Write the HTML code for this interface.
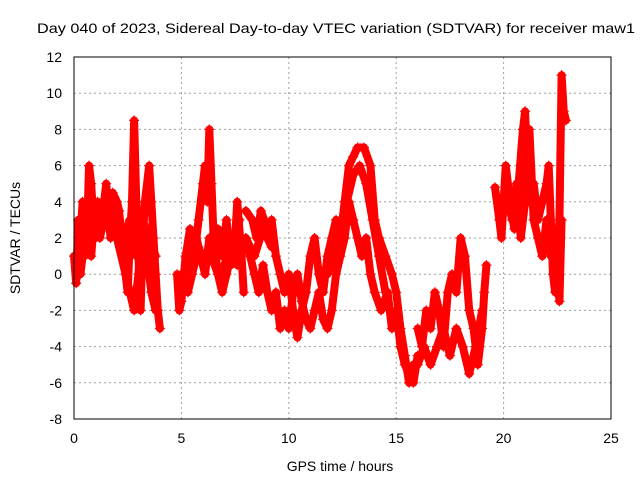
<!DOCTYPE html>
<html><head><meta charset="utf-8"><style>
body{margin:0;background:#fff}
svg{display:block;font-family:"Liberation Sans",sans-serif}
</style></head><body>
<svg id="chart" width="640" height="480" viewBox="0 0 640 480">
<text x="336" y="33" font-size="14" text-anchor="middle" textLength="598" lengthAdjust="spacingAndGlyphs">Day 040 of 2023, Sidereal Day-to-day VTEC variation (SDTVAR) for receiver maw1</text>
<g id="grid"></g><g id="marks"></g>
<rect x="74" y="57" width="537" height="362" fill="none" stroke="#000"/>
<g id="ticks"></g>
<text x="340" y="471" font-size="14" text-anchor="middle">GPS time / hours</text>
<text transform="translate(20,238) rotate(-90)" font-size="14" text-anchor="middle">SDTVAR / TECUs</text>
</svg>
<script>
const xTicks=[0,5,10,15,20,25];
const yTicks=[-8,-6,-4,-2,0,2,4,6,8,10,12];
const tr1=[0,0.1,0.2,0.3,0.4,0.5,0.6,0.7,0.8,0.9,1.0,1.1,1.3,1.5,1.7,1.8,2.0,2.1,2.3,2.5,2.6,2.7,2.8,2.9,3.0,3.1,3.2,3.3,3.5,3.6,3.7,3.8,3.9,4.0];
const v1=[1,-0.5,3,2,4,1,2,6,5,3,2,4,3,5,2,4.5,4,3.5,1,-1,2,4,8.5,4,1,-2,2,4,6,4,2,0,-2,-3];
const tr2=[0.3,0.5,0.8,1.0,1.2,1.4,1.6,1.8,2.0,2.4,2.6,2.8,3.0,3.2,3.4,3.6,3.8];
const v2=[0,2,1,4,2,3,4,3,2,0,-1,-2,0,3,1,-1,-2];
const tr3=[4.8,4.9,5.0,5.2,5.4,5.6,5.8,6.0,6.1,6.2,6.3,6.4,6.5,6.7,6.9,7.1,7.3,7.5,7.6,7.8,7.9];
const v3=[0,-2,-1.5,1,2.5,1,3,5,6,4,8,5,2,0,-1,0,1,2,4,1,-1];
const tr4=[5.0,5.3,5.5,5.7,5.9,6.1,6.3,6.5,6.7,6.9,7.1,7.3,7.5,7.7];
const v4=[0,-1,0,2,1,0,2,1,2.5,1,3,0.5,1,3];
const tr5=[8.0,8.3,8.5,8.7,9.0,9.2,9.4,9.6,9.8,10.0,10.2,10.4,10.6,10.8,11.0,11.2,11.4,11.6,11.8,12.0,12.2,12.4,12.6,12.8,13.0,13.2,13.5,13.8,14.0,14.2,14.5,14.8,15.0,15.2,15.4,15.6,15.8];
const v5=[3.5,3,2,3.5,2.5,3,1,0,-1,0,-2,-3.5,-2,-1,1,2,0,-1,1,2,3,2,4,6,6.5,7,7,6,3,2,1,0,-1,-3,-4.5,-6,-5];
const tr6=[8.0,8.2,8.4,8.6,8.8,9.0,9.2,9.4,9.6,9.8,10.0,10.2,10.4,10.6,10.8,11.0,11.2,11.4,11.6,11.8,12.0,12.2,12.4,12.6,12.8,13.0,13.2,13.4,13.6,13.8,14.0,14.3,14.6,14.8,15.0,15.2,15.4,15.6,15.8,16.0];
const v6=[2,1,0,-1,0.5,-1,-2,-1,-3,-2,-3,-1,0,-1.5,-2.5,-3,-2,-1,-2.5,-3,-2,0,1,2,4,3,2,1,2,0,-1,-2,-1,-3,-2,-4,-5,-5.5,-6,-4.5];
const tr7=[16.0,16.2,16.4,16.6,16.8,17.0,17.2,17.4,17.6,17.8,18.0,18.2,18.4,18.6,18.8,19.0,19.1,19.2];
const v7=[-3,-4,-2,-3,-1,-2,-4,-1,0,-1,2,1,-2,-3,-5,-3,-1,0.5];
const tr8=[16.0,16.3,16.6,16.9,17.2,17.5,17.8,18.1,18.4,18.7,19.0];
const v8=[-5,-4,-5,-4,-3,-4.5,-3,-4,-5.5,-4,-2];
const tr9=[19.6,19.8,19.9,20.1,20.3,20.5,20.7,20.9,21.0,21.1,21.2,21.4,21.6,21.8,22.0,22.1,22.2,22.3,22.4,22.5,22.6,22.7,22.8,22.9];
const v9=[4.8,3,2,6,4,2.5,5,8,9,6,4,5,3,4,5,6,3,0,-1,1,3,11,9,8.5];
const tr10=[20.2,20.4,20.6,20.8,21.0,21.2,21.4,21.6,21.8,22.0,22.2,22.4,22.6,22.7];
const v10=[4,3,5,2,4,8,3,2,1,3,1,2,-1.5,3];
const tr11=[0.2,0.5,0.8,1.1,1.4,1.7,2.0,2.3,2.6,2.9,3.2,3.5,3.8];
const v11=[2,3.5,3,3.5,4,3,3.5,2,3,1,3,2,1];
const tr12=[5.2,5.5,5.8,6.1,6.4,6.7,7.0,7.3,7.6,8.0,8.4,8.8,9.2];
const v12=[1,0,1.5,0.5,1,0,0.5,1.5,0.5,2,1,2.5,1.5];
const tr13=[11.8,12.1,12.4,12.7,13.0,13.3,13.6,13.9,14.2,14.5];
const v13=[0,1,2.5,4,5.5,6,5,3,1,-1];
const traces=[[tr1,v1],[tr2,v2],[tr3,v3],[tr4,v4],[tr5,v5],[tr6,v6],[tr7,v7],[tr8,v8],[tr9,v9],[tr10,v10],[tr11,v11],[tr12,v12],[tr13,v13]];
const X0=74,X1=611,Y0=419,Y1=57;
function sx(t){return X0+(t-0)/(25-0)*(X1-X0);}
function sy(v){return Y0-(v+8)/(12+8)*(Y0-Y1);}
const NS="http://www.w3.org/2000/svg";
const grid=document.getElementById('grid'),ticks=document.getElementById('ticks'),marks=document.getElementById('marks');
xTicks.forEach(t=>{
 const x=sx(t);
 if(t>0&&t<25){const l=document.createElementNS(NS,'line');
 
 
 l.setAttribute('x1',x);l.setAttribute('x2',x);l.setAttribute('y1',Y1);l.setAttribute('y2',Y0);
 l.setAttribute('stroke','#a0a0a0');l.setAttribute('stroke-dasharray','2,3');grid.appendChild(l);}
 const tx=document.createElementNS(NS,'text');
 
 
 tx.setAttribute('x',x);tx.setAttribute('y',443);tx.setAttribute('font-size','14');tx.setAttribute('text-anchor','middle');
 tx.textContent=t;ticks.appendChild(tx);
});
yTicks.forEach(v=>{
 const y=sy(v);
 if(v>-8&&v<12){const l=document.createElementNS(NS,'line');
 
 
 l.setAttribute('x1',X0);l.setAttribute('x2',X1);l.setAttribute('y1',y);l.setAttribute('y2',y);
 l.setAttribute('stroke','#a0a0a0');l.setAttribute('stroke-dasharray','2,3');grid.appendChild(l);}
 const tx=document.createElementNS(NS,'text');
 
 
 tx.setAttribute('x',62);tx.setAttribute('y',y+5);tx.setAttribute('font-size','14');tx.setAttribute('text-anchor','end');
 tx.textContent=v;ticks.appendChild(tx);
});
traces.forEach((tr,i)=>{
 const [ts,vs]=tr;
 const pts=ts.map((t,j)=>sx(t)+','+sy(vs[j])).join(' ');
 const pl=document.createElementNS(NS,'polyline');
 
 
 pl.setAttribute('points',pts);pl.setAttribute('fill','none');pl.setAttribute('stroke','#ff0000');
 pl.setAttribute('stroke-width','8');pl.setAttribute('stroke-linejoin','round');pl.setAttribute('stroke-linecap','round');
 marks.appendChild(pl);
 ts.forEach((t,j)=>{
  const x=sx(t),y=sy(vs[j]);
  const p=document.createElementNS(NS,'path');
  
  
  p.setAttribute('d',`M${x-5},${y}H${x+5}M${x},${y-5}V${y+5}`);
  p.setAttribute('stroke','#ff0000');p.setAttribute('stroke-width','1.2');
  marks.appendChild(p);
 });
});
</script>
</body></html>
